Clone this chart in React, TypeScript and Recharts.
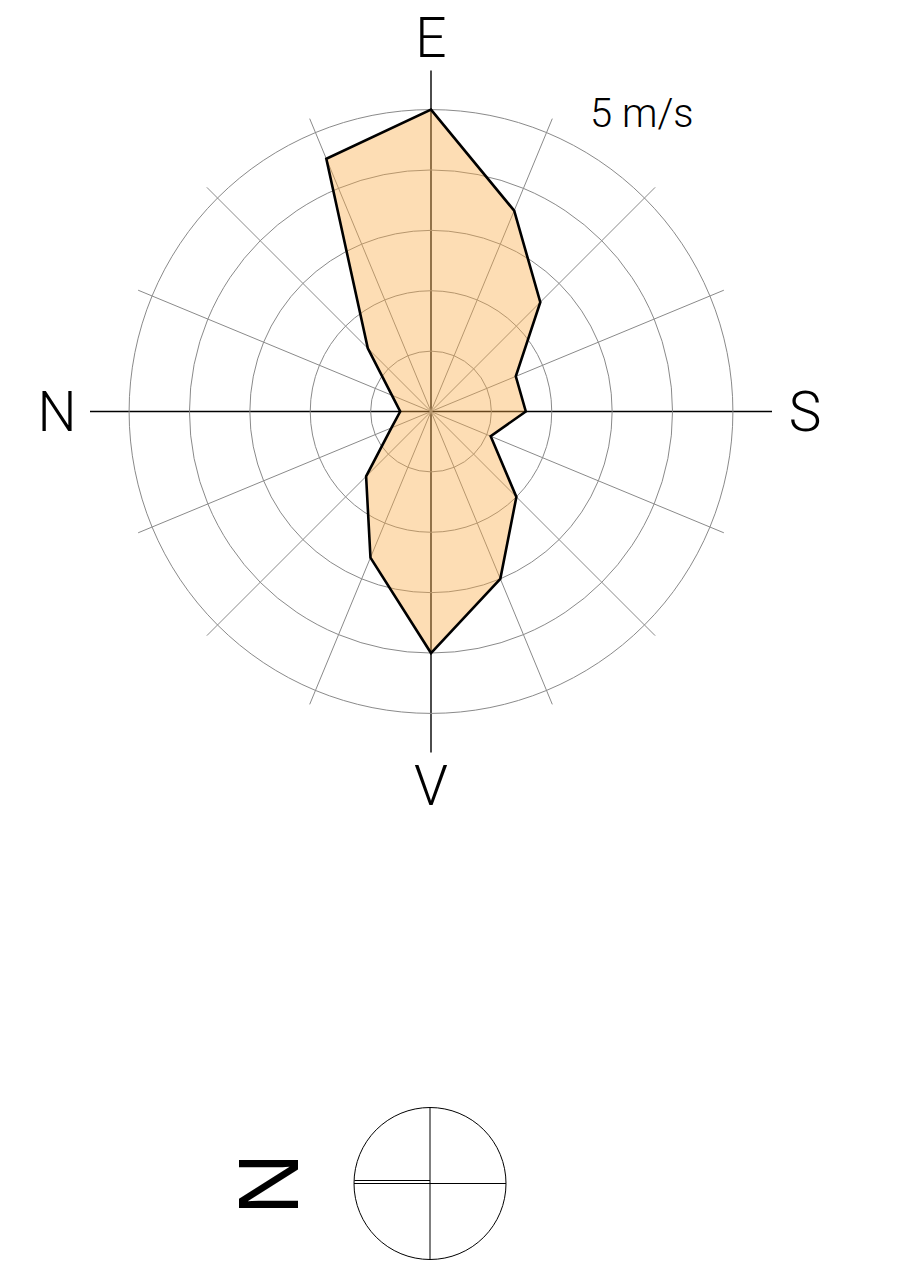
import { RadarChart, Radar, PolarGrid, PolarAngleAxis, PolarRadiusAxis } from 'recharts';

// wind speed (m/s) per direction, clockwise starting at the top (E)
const directions = ['E', 'ESE', 'SE', 'SSE', 'S', 'SSV', 'SV', 'VSV', 'V', 'VNV', 'NV', 'NNV', 'N', 'NNE', 'NE', 'ENE'];
const speeds = [5.0, 3.6, 2.56, 1.52, 1.57, 1.07, 2.0, 3.0, 4.0, 2.62, 1.52, 0.71, 0.51, 0.7, 1.48, 4.53];
const cardinals = ['E', 'S', 'V', 'N'];
const rings = [1, 2, 3, 4, 5];
const unitLabel = '5 m/s';
const northLetter = 'N';

// the drawing starts at the top of the page (body margin pulled back)
const W = 885;
const H = 1265;
const CX = 423;
const CY = 411.5;
const SPOKE_R = 317;
const AXIS_R = 341;
const LABEL_R = 374;
const RADIUS_MAX = 5.25;
const LABEL_SIZE = 55;

const data = directions.map((dir, i) => ({ dir, speed: speeds[i] }));
const cardinalData = cardinals.map((dir) => ({ dir }));
const pxPerUnit = SPOKE_R / RADIUS_MAX;
const ringRadii = rings.map((r) => r * pxPerUnit);
const minorAngles = directions
	.map((_, i) => 90 - i * (360 / directions.length))
	.filter((_, i) => i % 4 !== 0);

const CardinalTick = (props: any) => {
	const { x, y, payload } = props;
	return (
		<text
			x={x}
			y={y + LABEL_SIZE * 0.355}
			textAnchor="middle"
			fontFamily="Roboto, sans-serif"
			fontWeight={300}
			fontSize={LABEL_SIZE}
			fill="#000">
			{payload.value}
		</text>
	);
};

const layer: React.CSSProperties = { position: 'absolute', left: 0, top: 0 };
const margin = { top: 0, right: 0, bottom: 0, left: 0 };

const App = () => {
	return (
		<div style={{ position: 'relative', width: W, height: H, marginTop: -8 }}>
			{/* long cardinal axes + labels, underneath the fill */}
			<div style={layer}>
				<RadarChart
					width={W}
					height={H}
					data={cardinalData}
					cx={CX}
					cy={CY}
					outerRadius={AXIS_R}
					startAngle={90}
					endAngle={-270}
					margin={margin}>
					<PolarGrid gridType="circle" polarRadius={[]} stroke="#000" strokeWidth={1.4} />
					<PolarAngleAxis
						dataKey="dir"
						tick={CardinalTick}
						tickLine={false}
						axisLine={false}
						tickSize={LABEL_R - AXIS_R}
					/>
				</RadarChart>
			</div>

			{/* rings, minor spokes and the wind polygon */}
			<div style={layer}>
				<RadarChart
					width={W}
					height={H}
					data={data}
					cx={CX}
					cy={CY}
					outerRadius={SPOKE_R}
					startAngle={90}
					endAngle={-270}
					margin={margin}>
					<PolarGrid
						gridType="circle"
						polarRadius={ringRadii}
						polarAngles={minorAngles}
						stroke="#8a8a8a"
						strokeWidth={1}
					/>
					<PolarAngleAxis dataKey="dir" tick={false} tickLine={false} axisLine={false} />
					<PolarRadiusAxis domain={[0, RADIUS_MAX]} tick={false} axisLine={false} />
					<Radar
						dataKey="speed"
						stroke="#000"
						strokeWidth={2.6}
						fill="#FAAA43"
						fillOpacity={0.4}
						dot={false}
						isAnimationActive={false}
					/>
				</RadarChart>
			</div>

			{/* scale note and north symbol */}
			<svg width={W} height={H} style={layer}>
				<text x={582} y={127} fontFamily="Roboto, sans-serif" fontWeight={300} fontSize={40} fill="#000">
					{unitLabel}
				</text>
				<text
					x={258.5}
					y={1184 + 86 * 0.3645}
					transform="rotate(-90 258.5 1184)"
					textAnchor="middle"
					fontFamily="Liberation Sans, sans-serif"
					fontSize={86}
					fill="#000">
					{northLetter}
				</text>
				<g stroke="#000" strokeWidth={1} fill="none">
					<circle cx={422} cy={1183.5} r={76} />
					<line x1={422} y1={1107.5} x2={422} y2={1260} />
					<line x1={346} y1={1183.5} x2={498} y2={1183.5} />
					<line x1={346.5} y1={1180.5} x2={422} y2={1180.5} />
				</g>
			</svg>
		</div>
	);
};

export default App;
